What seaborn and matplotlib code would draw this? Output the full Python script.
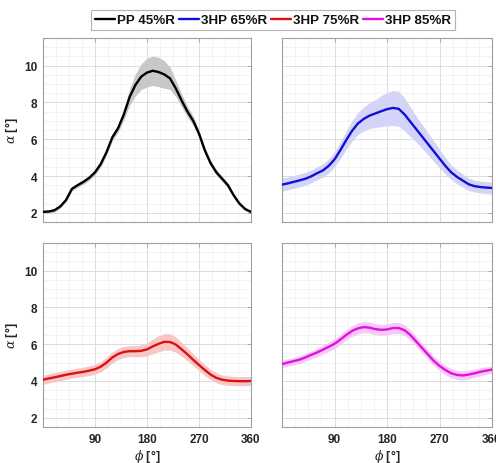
import numpy as np
import pandas as pd
import matplotlib
matplotlib.use("Agg")
import matplotlib.pyplot as plt
from matplotlib.ticker import MultipleLocator
from matplotlib.lines import Line2D
import seaborn as sns

# Crank angle grid (degrees)
phi = list(range(0, 361, 10))

series_names = ["PP 45%R", "3HP 65%R", "3HP 75%R", "3HP 85%R"]
line_colors = ["#000000", "#1010d8", "#dc1010", "#e010e0"]
band_colors = ["#c8c8c8", "#d4d4f8", "#f8c6c6", "#f8c8f6"]

# Mean blade angle alpha (deg) for each case
alpha_pp45 = [2.05, 2.07, 2.14, 2.35, 2.7, 3.3, 3.5, 3.68, 3.9, 4.2,
              4.65, 5.3, 6.1, 6.6, 7.35, 8.3, 8.95, 9.4, 9.62, 9.72,
              9.65, 9.52, 9.3, 8.75, 8.1, 7.5, 7.0, 6.3, 5.4, 4.7,
              4.2, 3.85, 3.5, 2.95, 2.5, 2.2, 2.05]
alpha_3hp65 = [3.53, 3.6, 3.68, 3.76, 3.85, 3.98, 4.15, 4.3, 4.55, 4.9,
               5.4, 5.95, 6.45, 6.85, 7.1, 7.28, 7.4, 7.52, 7.63, 7.7,
               7.65, 7.35, 6.95, 6.55, 6.15, 5.75, 5.35, 4.95, 4.55, 4.2,
               3.95, 3.75, 3.55, 3.45, 3.4, 3.37, 3.35]
alpha_3hp75 = [4.07, 4.14, 4.2, 4.27, 4.34, 4.4, 4.45, 4.5, 4.56, 4.64,
               4.78, 5.0, 5.28, 5.47, 5.58, 5.62, 5.62, 5.64, 5.72, 5.88,
               6.02, 6.13, 6.12, 5.98, 5.72, 5.45, 5.15, 4.87, 4.6, 4.35,
               4.17, 4.07, 4.02, 4.0, 3.99, 3.99, 4.0]
alpha_3hp85 = [4.92, 5.0, 5.08, 5.16, 5.28, 5.42, 5.55, 5.7, 5.86, 6.02,
               6.25, 6.5, 6.72, 6.86, 6.93, 6.9, 6.82, 6.78, 6.8, 6.88,
               6.88, 6.76, 6.5, 6.15, 5.8, 5.45, 5.1, 4.82, 4.6, 4.42,
               4.33, 4.3, 4.35, 4.42, 4.5, 4.56, 4.62]

# Standard deviation (deg) for each case
sd_pp45 = [0.08, 0.09, 0.1, 0.1, 0.11, 0.12, 0.12, 0.13, 0.14, 0.15,
           0.16, 0.17, 0.18, 0.22, 0.3, 0.45, 0.6, 0.7, 0.78, 0.8,
           0.8, 0.75, 0.6, 0.45, 0.35, 0.3, 0.25, 0.2, 0.18, 0.16,
           0.15, 0.14, 0.13, 0.12, 0.1, 0.09, 0.08]
sd_3hp65 = [0.35, 0.35, 0.35, 0.35, 0.35, 0.35, 0.35, 0.36, 0.38, 0.4,
            0.45, 0.5, 0.55, 0.6, 0.65, 0.7, 0.75, 0.85, 0.9, 0.95,
            0.95, 0.9, 0.8, 0.7, 0.65, 0.6, 0.55, 0.5, 0.45, 0.4,
            0.38, 0.36, 0.34, 0.32, 0.32, 0.32, 0.32]
sd_3hp75 = [0.25, 0.25, 0.25, 0.25, 0.25, 0.25, 0.25, 0.25, 0.26, 0.27,
            0.28, 0.29, 0.3, 0.3, 0.3, 0.3, 0.3, 0.32, 0.35, 0.4,
            0.43, 0.45, 0.45, 0.42, 0.38, 0.35, 0.32, 0.3, 0.3, 0.28,
            0.27, 0.26, 0.25, 0.25, 0.25, 0.25, 0.25]
sd_3hp85 = [0.2, 0.2, 0.2, 0.21, 0.22, 0.22, 0.23, 0.24, 0.25, 0.26,
            0.27, 0.28, 0.29, 0.3, 0.3, 0.3, 0.3, 0.3, 0.3, 0.3,
            0.3, 0.29, 0.28, 0.27, 0.26, 0.25, 0.25, 0.25, 0.25, 0.25,
            0.25, 0.25, 0.24, 0.23, 0.22, 0.21, 0.2]

xticks = [90, 180, 270, 360]
yticks = [2, 4, 6, 8, 10]

means = [alpha_pp45, alpha_3hp65, alpha_3hp75, alpha_3hp85]
sds = [sd_pp45, sd_3hp65, sd_3hp75, sd_3hp85]

frames = []
for name, m, s in zip(series_names, means, sds):
    frames.append(pd.DataFrame({"phi": phi, "alpha": m, "sd": s, "case": name}))
df = pd.concat(frames, ignore_index=True)

sns.set_theme(style="white")
plt.rcParams["font.family"] = ["Liberation Sans", "DejaVu Sans"]
plt.rcParams["mathtext.fontset"] = "dejavuserif"

fig = plt.figure(figsize=(4.96, 4.64), dpi=100)
fig.patch.set_facecolor("white")

W, H = 496.0, 464.0
boxes = [
    (43, 39, 208, 184),
    (282, 39, 210, 184),
    (43, 244, 208, 184),
    (282, 244, 210, 184),
]

text_col = "#262626"
spine_col = "#a0a0a0"

handles = []
for i, (name, lc, bc) in enumerate(zip(series_names, line_colors, band_colors)):
    x0, y0, w, h = boxes[i]
    ax = fig.add_axes([x0 / W, 1 - (y0 + h) / H, w / W, h / H])
    sub = df[df["case"] == name]
    ax.fill_between(sub["phi"], sub["alpha"] - sub["sd"], sub["alpha"] + sub["sd"],
                    color=bc, linewidth=0, zorder=2)
    sns.lineplot(data=sub, x="phi", y="alpha", color=lc, linewidth=1.7,
                 ax=ax, zorder=3, legend=False)
    handles.append(Line2D([0], [0], color=lc, linewidth=1.7))

    ax.set_xlim(0, 360)
    ax.set_ylim(1.5, 11.5)
    ax.set_xticks(xticks)
    ax.set_yticks(yticks)
    ax.xaxis.set_minor_locator(MultipleLocator(22.5))
    ax.yaxis.set_minor_locator(MultipleLocator(0.5))
    ax.grid(which="major", color="#dcdcdc", linewidth=0.7, zorder=0)
    ax.grid(which="minor", color="#efefef", linewidth=0.5, zorder=0)
    ax.set_axisbelow(True)
    for sp in ax.spines.values():
        sp.set_color(spine_col)
        sp.set_linewidth(0.8)
    ax.tick_params(which="major", direction="in", length=3, width=0.6,
                   color=spine_col, top=True, right=True,
                   labelsize=8.5, labelcolor=text_col, pad=4)
    ax.tick_params(which="minor", length=0)
    for lab in ax.get_xticklabels() + ax.get_yticklabels():
        lab.set_fontweight("bold")

    if i % 2 == 0:
        ax.set_ylabel(r"$\alpha$ [°]", fontsize=9, fontweight="bold",
                      color=text_col, labelpad=3)
    else:
        ax.set_ylabel("")
        ax.tick_params(labelleft=False)
    if i >= 2:
        ax.set_xlabel(r"$\phi$ [°]", fontsize=9, fontweight="bold",
                      color=text_col, labelpad=2)
    else:
        ax.set_xlabel("")
        ax.tick_params(labelbottom=False)

leg = fig.legend(handles, series_names, loc="center", bbox_to_anchor=(273 / W, 1 - 21 / H),
                 ncol=4, frameon=True, fancybox=False, handlelength=1.5,
                 handletextpad=0.15, columnspacing=0.3, borderpad=0.3,
                 borderaxespad=0.2,
                 prop={"family": "Liberation Sans", "weight": "bold", "size": 9.6})
leg.get_frame().set_edgecolor("#a0a0a0")
leg.get_frame().set_linewidth(0.8)
for t in leg.get_texts():
    t.set_color("#111111")

fig.savefig("out.png", dpi=100, facecolor="white")
